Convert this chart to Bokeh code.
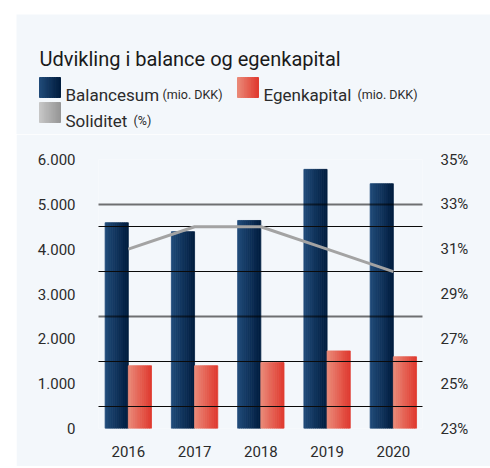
import numpy as np
from bokeh.plotting import figure
from bokeh.models import Range1d, LinearAxis, FixedTicker, Grid, Label, Spacer
from bokeh.layouts import column, row
from bokeh.embed import file_html
from bokeh.resources import INLINE

# ---------------- data ----------------
years = ["2016", "2017", "2018", "2019", "2020"]
balancesum = [4590, 4390, 4640, 5780, 5460]      # mio. DKK
egenkapital = [1400, 1400, 1470, 1730, 1600]     # mio. DKK
soliditet = [31, 32, 32, 31, 30]                 # %
left_ticks = [0, 1000, 2000, 3000, 4000, 5000, 6000]
left_labels = ["0", "1.000", "2.000", "3.000", "4.000", "5.000", "6.000"]
right_ticks = [23, 25, 27, 29, 31, 33, 35]
right_labels = ["23%", "25%", "27%", "29%", "31%", "33%", "35%"]
grid_gray = [0, 2500, 5000, 6000]
grid_dark = [500, 1500, 3500, 4500]
title_text = "Udvikling i balance og egenkapital"
series_names = ["Balancesum", "Egenkapital", "Soliditet"]
series_units = ["(mio. DKK)", "(mio. DKK)", "(%)"]

# ---------------- style ----------------
BG = "#f3f7fb"
FONT = "Roboto"
TXT = "#2b2b2b"
NAVY = ((33, 76, 122), (0, 28, 62))
RED = ((234, 140, 122), (224, 56, 46))
GRAY = ((200, 200, 200), (150, 150, 150))
NSTRIP = 12


def grad(c0, c1, n):
    out = []
    for i in range(n):
        t = (i + 0.5) / n
        c = tuple(int(round(a + (b - a) * t)) for a, b in zip(c0, c1))
        out.append("#%02x%02x%02x" % c)
    return out


W = 474
HH = 120
# ---------------- header (title + legend) ----------------
hdr = figure(width=W, height=HH, x_range=Range1d(0, W), y_range=Range1d(HH, 0),
             output_backend="svg", toolbar_location=None, min_border=0,
             x_axis_location=None, y_axis_location=None,
             background_fill_color=BG, border_fill_color=BG, outline_line_color=None)
hdr.grid.visible = False
hdr.frame_align = False

hdr.add_layout(Label(x=23, y=44, text=title_text, text_font=FONT, text_font_size="20px",
                     text_color="#1a1a1a", text_baseline="alphabetic"))

legend_items = [
    (NAVY, 23, 63, 49, 80, 146),
    (RED, 221, 63, 247, 80, 341),
    (GRAY, 23, 88, 49, 106, 117),
]
for k, (cols, sx, sy, tx, ty, ux) in enumerate(legend_items):
    cs = grad(cols[0], cols[1], NSTRIP)
    sw = 21.0 / NSTRIP
    lefts = [sx + i * sw for i in range(NSTRIP)]
    rights = [l + sw for l in lefts]
    hdr.quad(left=lefts, right=rights, top=[sy] * NSTRIP, bottom=[sy + 20] * NSTRIP,
             fill_color=cs, line_color=cs, line_width=1)
    hdr.add_layout(Label(x=tx, y=ty, text=series_names[k], text_font=FONT,
                         text_font_size="17px", text_color=TXT, text_baseline="alphabetic"))
    hdr.add_layout(Label(x=ux, y=ty, text=series_units[k], text_font=FONT,
                         text_font_size="12.5px", text_color=TXT, text_baseline="alphabetic"))

# ---------------- main chart ----------------
p = figure(width=W, height=332, x_range=Range1d(-0.45, 4.44), y_range=Range1d(0, 6000),
           output_backend="svg", toolbar_location=None,
           min_border_left=82, min_border_right=68, min_border_top=25, min_border_bottom=38,
           background_fill_color=BG, border_fill_color=BG, outline_line_color=None)
p.frame_align = False
p.extra_y_ranges = {"pct": Range1d(23, 35)}

xi = np.arange(len(years))
bw = 0.35
for vals, cols, side in [(balancesum, NAVY, -1), (egenkapital, RED, 1)]:
    cs = grad(cols[0], cols[1], NSTRIP)
    sw = bw / NSTRIP
    start = -bw if side < 0 else 0.0
    for i in range(NSTRIP):
        off = start + (i + 0.5) * sw
        p.vbar(x=xi + off, top=vals, bottom=0, width=sw,
               fill_color=cs[i], line_color=cs[i], line_width=0.8)

# grids (drawn above the bars)
p.xgrid.visible = False
p.ygrid.ticker = FixedTicker(ticks=grid_gray)
p.ygrid.grid_line_color = "black"
p.ygrid.grid_line_alpha = 0.55
p.ygrid.grid_line_width = 2
p.ygrid.level = "guide"
g2 = Grid(dimension=1, ticker=FixedTicker(ticks=grid_dark), grid_line_color="#0a0a0a",
          grid_line_width=1.2, level="guide")
p.add_layout(g2)

ln = p.line(x=xi, y=soliditet, y_range_name="pct", line_color="#a3a3a3", line_width=3)
ln.level = "annotation"

# axes
def style_axis(ax, standoff):
    ax.axis_line_color = None
    ax.major_tick_line_color = None
    ax.minor_tick_line_color = None
    ax.major_label_text_font = FONT
    ax.major_label_text_font_size = "15px"
    ax.major_label_text_color = TXT
    ax.major_label_standoff = standoff

p.yaxis.ticker = FixedTicker(ticks=left_ticks)
p.yaxis.major_label_overrides = {t: l for t, l in zip(left_ticks, left_labels)}
style_axis(p.yaxis[0], 17)

p.xaxis.ticker = FixedTicker(ticks=list(xi))
p.xaxis.major_label_overrides = {int(i): y for i, y in zip(xi, years)}
style_axis(p.xaxis[0], 11)

rax = LinearAxis(y_range_name="pct", ticker=FixedTicker(ticks=right_ticks),
                 major_label_overrides={t: l for t, l in zip(right_ticks, right_labels)})
style_axis(rax, 12)
p.add_layout(rax, "right")

layout = row(Spacer(width=16, height=466), column(Spacer(width=W, height=14), hdr, p))
open("out.html", "w").write(file_html(layout, INLINE))
